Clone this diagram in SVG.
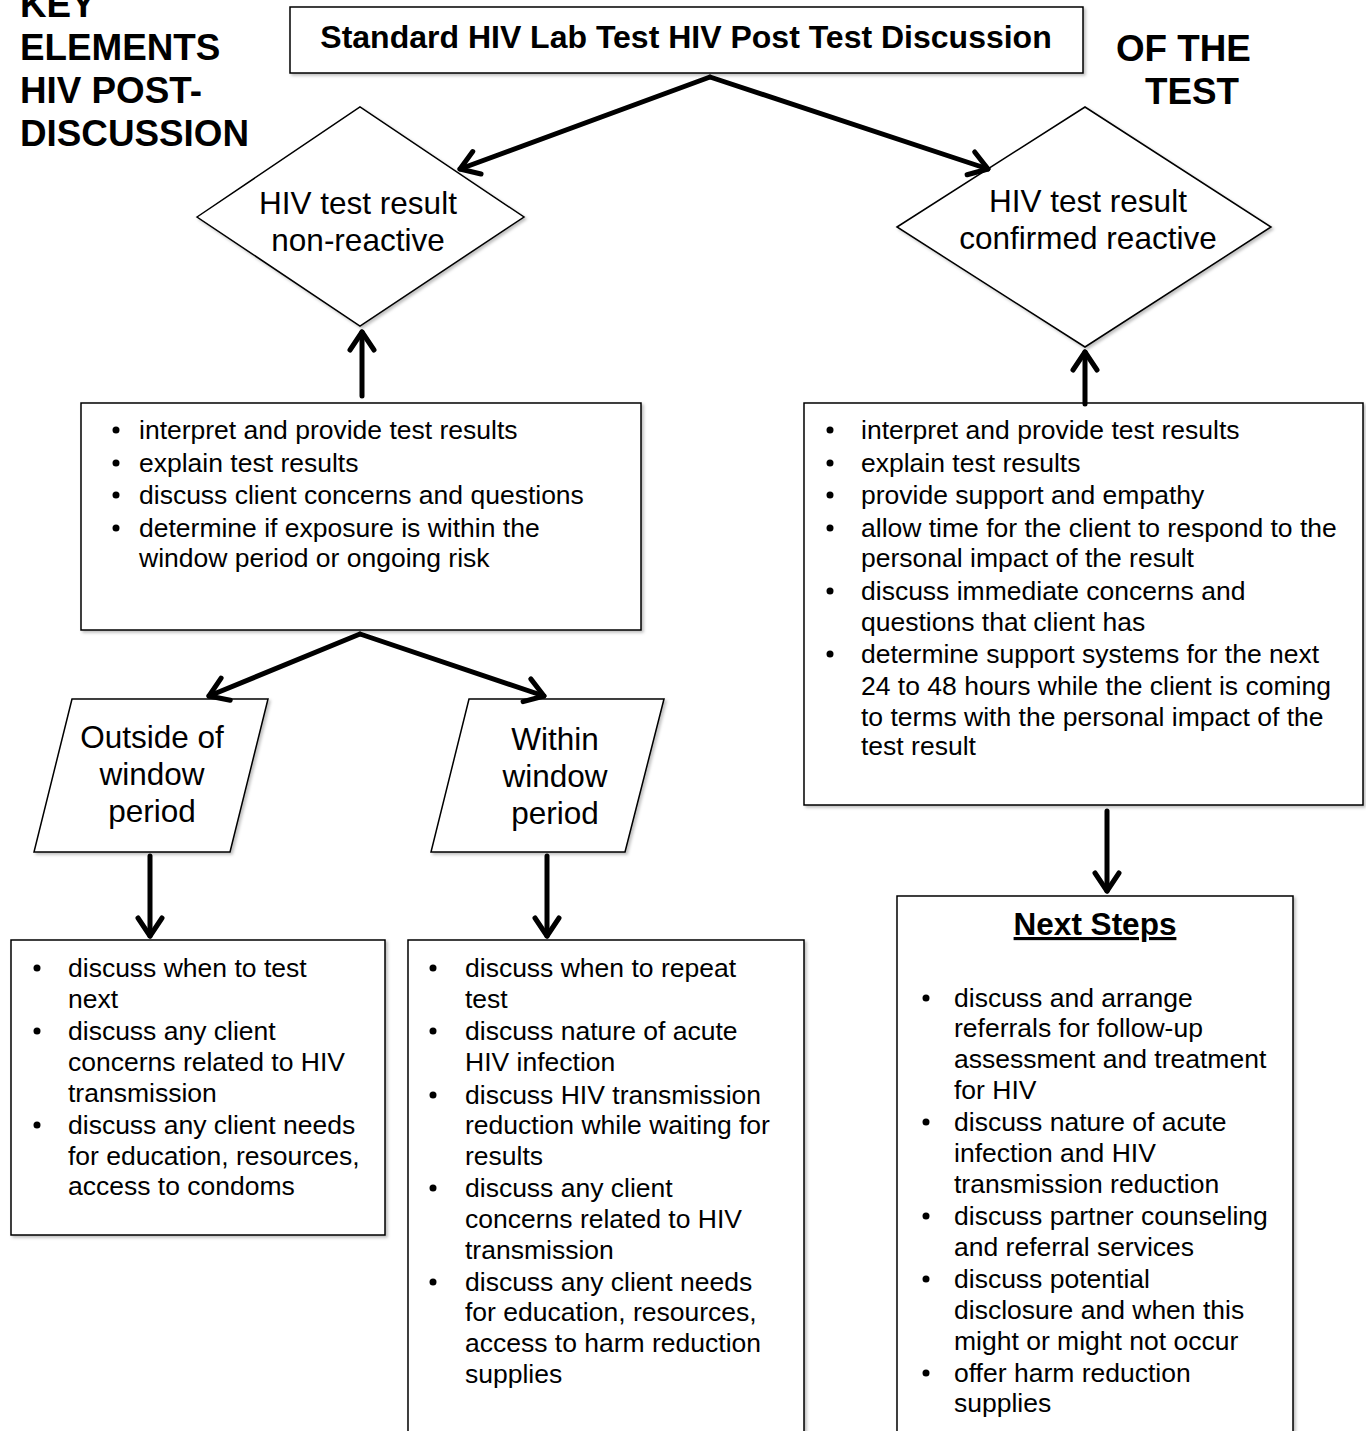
<svg xmlns="http://www.w3.org/2000/svg" width="1366" height="1431" viewBox="0 0 1366 1431">
<defs>
<filter id="sh" x="-10%" y="-10%" width="120%" height="120%">
<feDropShadow dx="2" dy="2" stdDeviation="1.5" flood-color="#000" flood-opacity="0.25"/>
</filter>
<marker id="ah" markerUnits="userSpaceOnUse" markerWidth="44" markerHeight="44" viewBox="-25 -22 30 44" refX="0" refY="0" orient="auto">
<path d="M -18 -12 L 0 0 L -18 12" fill="none" stroke="#000" stroke-width="5" stroke-linecap="round" stroke-linejoin="round"/>
</marker>
</defs>
<style>
.shape{fill:#fff;stroke:#000;stroke-width:1.5;filter:url(#sh)}
.t{font-family:"Liberation Sans",Arial,sans-serif;font-size:26.5px;fill:#000}
.lbl{font-family:"Liberation Sans",Arial,sans-serif;font-size:31.5px;fill:#000;text-anchor:middle}
.head{font-family:"Liberation Sans",Arial,sans-serif;font-size:36.8px;font-weight:bold;fill:#000}
.b{fill:#000}
.conn line{stroke:#000;stroke-width:5;stroke-linecap:round;marker-end:url(#ah)}
</style>
<rect width="1366" height="1431" fill="#fff"/>

<g id="title-left">
<text class="head" x="20" y="17">KEY</text>
<text class="head" x="20" y="60">ELEMENTS</text>
<text class="head" x="20" y="103">HIV POST-</text>
<text class="head" x="20" y="146">DISCUSSION</text>
</g>
<g id="title-right">
<text class="head" x="1116" y="61">OF THE</text>
<text class="head" x="1145" y="104">TEST</text>
</g>

<g id="top">
<rect class="shape" x="290" y="7" width="793" height="66"/>
<text x="686" y="48" font-family="Liberation Sans, Arial, sans-serif" font-size="32" font-weight="bold" text-anchor="middle">Standard HIV Lab Test HIV Post Test Discussion</text>
</g>

<g id="nonreactive">
<polygon class="shape" points="197,217 360,107 524,217 360,326"/>
<text class="lbl" x="358" y="214">HIV test result</text>
<text class="lbl" x="358" y="251">non-reactive</text>
</g>

<g id="reactive">
<polygon class="shape" points="897,227 1085,107 1271,227 1085,347"/>
<text class="lbl" x="1088" y="212">HIV test result</text>
<text class="lbl" x="1088" y="249">confirmed reactive</text>
</g>

<g id="box-nonreactive">
<rect class="shape" x="81" y="403" width="560" height="227"/>
<circle class="b" cx="116" cy="430" r="3.5"/>
<circle class="b" cx="116" cy="463" r="3.5"/>
<circle class="b" cx="116" cy="495" r="3.5"/>
<circle class="b" cx="116" cy="528" r="3.5"/>
<text class="t" x="139" y="439">interpret and provide test results</text>
<text class="t" x="139" y="472">explain test results</text>
<text class="t" x="139" y="504">discuss client concerns and questions</text>
<text class="t" x="139" y="537">determine if exposure is within the</text>
<text class="t" x="139" y="567">window period or ongoing risk</text>
</g>

<g id="box-reactive">
<rect class="shape" x="804" y="403" width="559" height="402"/>
<circle class="b" cx="830" cy="430" r="3.5"/>
<circle class="b" cx="830" cy="463" r="3.5"/>
<circle class="b" cx="830" cy="495" r="3.5"/>
<circle class="b" cx="830" cy="528" r="3.5"/>
<circle class="b" cx="830" cy="591" r="3.5"/>
<circle class="b" cx="830" cy="654" r="3.5"/>
<text class="t" x="861" y="439">interpret and provide test results</text>
<text class="t" x="861" y="472">explain test results</text>
<text class="t" x="861" y="504">provide support and empathy</text>
<text class="t" x="861" y="537">allow time for the client to respond to the</text>
<text class="t" x="861" y="567">personal impact of the result</text>
<text class="t" x="861" y="600">discuss immediate concerns and</text>
<text class="t" x="861" y="631">questions that client has</text>
<text class="t" x="861" y="663">determine support systems for the next</text>
<text class="t" x="861" y="695">24 to 48 hours while the client is coming</text>
<text class="t" x="861" y="726">to terms with the personal impact of the</text>
<text class="t" x="861" y="755">test result</text>
</g>

<g id="outside">
<polygon class="shape" points="72,699 268,699 230,852 34,852"/>
<text class="lbl" x="152" y="748">Outside of</text>
<text class="lbl" x="152" y="785">window</text>
<text class="lbl" x="152" y="822">period</text>
</g>

<g id="within">
<polygon class="shape" points="469,699 664,699 625,852 431,852"/>
<text class="lbl" x="555" y="750">Within</text>
<text class="lbl" x="555" y="787">window</text>
<text class="lbl" x="555" y="824">period</text>
</g>

<g id="box-outside">
<rect class="shape" x="11" y="940" width="374" height="295"/>
<circle class="b" cx="37" cy="968" r="3.5"/>
<circle class="b" cx="37" cy="1031" r="3.5"/>
<circle class="b" cx="37" cy="1125" r="3.5"/>
<text class="t" x="68" y="977">discuss when to test</text>
<text class="t" x="68" y="1008">next</text>
<text class="t" x="68" y="1040">discuss any client</text>
<text class="t" x="68" y="1071">concerns related to HIV</text>
<text class="t" x="68" y="1102">transmission</text>
<text class="t" x="68" y="1134">discuss any client needs</text>
<text class="t" x="68" y="1165">for education, resources,</text>
<text class="t" x="68" y="1195">access to condoms</text>
</g>

<g id="box-within">
<rect class="shape" x="408" y="940" width="396" height="520"/>
<circle class="b" cx="433" cy="968" r="3.5"/>
<circle class="b" cx="433" cy="1031" r="3.5"/>
<circle class="b" cx="433" cy="1095" r="3.5"/>
<circle class="b" cx="433" cy="1188" r="3.5"/>
<circle class="b" cx="433" cy="1282" r="3.5"/>
<text class="t" x="465" y="977">discuss when to repeat</text>
<text class="t" x="465" y="1008">test</text>
<text class="t" x="465" y="1040">discuss nature of acute</text>
<text class="t" x="465" y="1071">HIV infection</text>
<text class="t" x="465" y="1104">discuss HIV transmission</text>
<text class="t" x="465" y="1134">reduction while waiting for</text>
<text class="t" x="465" y="1165">results</text>
<text class="t" x="465" y="1197">discuss any client</text>
<text class="t" x="465" y="1228">concerns related to HIV</text>
<text class="t" x="465" y="1259">transmission</text>
<text class="t" x="465" y="1291">discuss any client needs</text>
<text class="t" x="465" y="1321">for education, resources,</text>
<text class="t" x="465" y="1352">access to harm reduction</text>
<text class="t" x="465" y="1383">supplies</text>
</g>

<g id="box-next">
<rect class="shape" x="897" y="896" width="396" height="560"/>
<text x="1095" y="935" font-family="Liberation Sans, Arial, sans-serif" font-size="31.5" font-weight="bold" text-anchor="middle" text-decoration="underline">Next Steps</text>
<circle class="b" cx="926" cy="998" r="3.5"/>
<circle class="b" cx="926" cy="1122" r="3.5"/>
<circle class="b" cx="926" cy="1216" r="3.5"/>
<circle class="b" cx="926" cy="1279" r="3.5"/>
<circle class="b" cx="926" cy="1373" r="3.5"/>
<text class="t" x="954" y="1007">discuss and arrange</text>
<text class="t" x="954" y="1037">referrals for follow-up</text>
<text class="t" x="954" y="1068">assessment and treatment</text>
<text class="t" x="954" y="1099">for HIV</text>
<text class="t" x="954" y="1131">discuss nature of acute</text>
<text class="t" x="954" y="1162">infection and HIV</text>
<text class="t" x="954" y="1193">transmission reduction</text>
<text class="t" x="954" y="1225">discuss partner counseling</text>
<text class="t" x="954" y="1256">and referral services</text>
<text class="t" x="954" y="1288">discuss potential</text>
<text class="t" x="954" y="1319">disclosure and when this</text>
<text class="t" x="954" y="1350">might or might not occur</text>
<text class="t" x="954" y="1382">offer harm reduction</text>
<text class="t" x="954" y="1412">supplies</text>
</g>

<g id="connectors" class="conn">
<line x1="710" y1="77" x2="460" y2="169"/>
<line x1="710" y1="77" x2="988" y2="169"/>
<line x1="362" y1="396" x2="362" y2="332"/>
<line x1="1085" y1="404" x2="1085" y2="352"/>
<line x1="360" y1="634" x2="209" y2="696"/>
<line x1="360" y1="634" x2="544" y2="696"/>
<line x1="150" y1="856" x2="150" y2="936"/>
<line x1="547" y1="856" x2="547" y2="936"/>
<line x1="1107" y1="811" x2="1107" y2="891"/>
</g>
</svg>
